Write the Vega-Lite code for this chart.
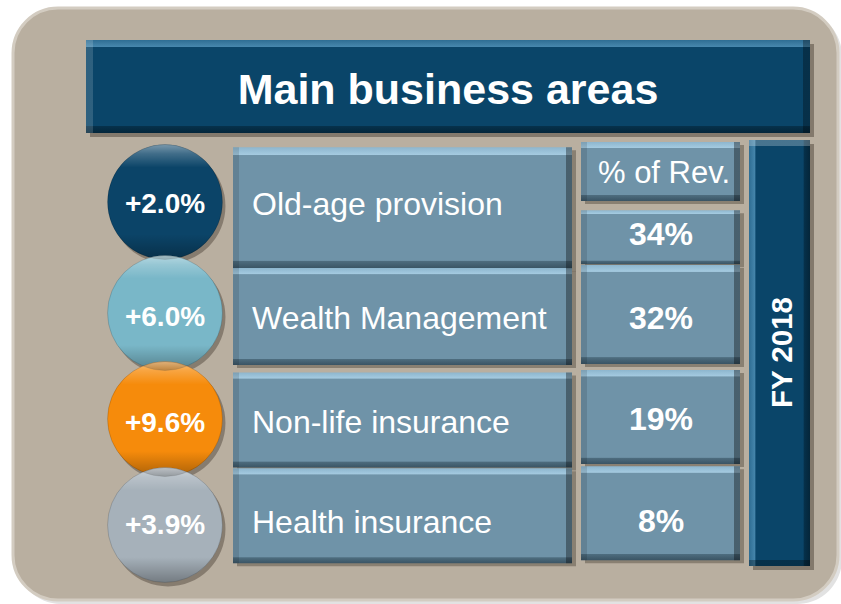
{
  "$schema": "https://vega.github.io/schema/vega-lite/v6.json",
  "width": 841,
  "height": 604,
  "padding": 0,
  "autosize": {"type": "none"},
  "background": "#ffffff",
  "config": {"view": {"stroke": null}, "axis": {"disable": true}},
  "data": {
    "values": [
      {"area": "Old-age provision", "growth": 0.020, "share": 0.34, "rank": 1},
      {"area": "Wealth Management", "growth": 0.060, "share": 0.32, "rank": 2},
      {"area": "Non-life insurance", "growth": 0.096, "share": 0.19, "rank": 3},
      {"area": "Health insurance", "growth": 0.039, "share": 0.08, "rank": 4}
    ]
  },
  "resolve": {"scale": {"y": "independent"}},
  "layer": [
    {
      "data": {"values": [{}]},
      "mark": {"type": "rect", "cornerRadius": 45, "fill": "#e2e2e2"},
      "encoding": {
        "x": {"datum": 16, "scale": {"domain": [0, 841], "nice": false, "zero": false}},
        "x2": {"datum": 842},
        "y": {"datum": 11, "scale": {"domain": [0, 604], "range": [0, 604], "nice": false, "zero": false}},
        "y2": {"datum": 604}
      }
    },
    {
      "data": {"values": [{}]},
      "mark": {"type": "rect", "cornerRadius": 45, "fill": "#b9afa0", "stroke": "#d3ccc1", "strokeWidth": 3},
      "encoding": {
        "x": {"datum": 13, "scale": {"domain": [0, 841], "nice": false, "zero": false}},
        "x2": {"datum": 838},
        "y": {"datum": 8, "scale": {"domain": [0, 604], "range": [0, 604], "nice": false, "zero": false}},
        "y2": {"datum": 600}
      }
    },
    {
      "data": {"values": [{}]},
      "mark": {"type": "rect", "fill": "rgba(50,40,30,0.4)"},
      "encoding": {
        "x": {"datum": 90, "scale": {"domain": [0, 841], "nice": false, "zero": false}},
        "x2": {"datum": 814},
        "y": {"datum": 44, "scale": {"domain": [0, 604], "range": [0, 604], "nice": false, "zero": false}},
        "y2": {"datum": 137}
      }
    },
    {
      "data": {"values": [{}]},
      "mark": {"type": "rect", "fill": {"gradient": "linear", "x1": 0, "y1": 0, "x2": 0, "y2": 1, "stops": [
        {"offset": 0, "color": "#2e6d93"}, {"offset": 0.07, "color": "#4686ac"}, {"offset": 0.08, "color": "#0a4569"},
        {"offset": 0.92, "color": "#0a4569"}, {"offset": 0.93, "color": "#06314b"}, {"offset": 1, "color": "#04263a"}]}},
      "encoding": {
        "x": {"datum": 86, "scale": {"domain": [0, 841], "nice": false, "zero": false}},
        "x2": {"datum": 810},
        "y": {"datum": 40, "scale": {"domain": [0, 604], "range": [0, 604], "nice": false, "zero": false}},
        "y2": {"datum": 133}
      }
    },
    {
      "data": {"values": [{}]},
      "mark": {"type": "rect", "fill": {"gradient": "linear", "x1": 0, "y1": 0, "x2": 1, "y2": 0, "stops": [
        {"offset": 0, "color": "rgba(255,255,255,0.15)"}, {"offset": 0.0095, "color": "rgba(255,255,255,0.15)"}, {"offset": 0.01, "color": "rgba(255,255,255,0)"},
        {"offset": 0.99, "color": "rgba(0,0,0,0)"}, {"offset": 0.9905, "color": "rgba(0,0,0,0.3)"}, {"offset": 1, "color": "rgba(0,0,0,0.3)"}]}},
      "encoding": {
        "x": {"datum": 86, "scale": {"domain": [0, 841], "nice": false, "zero": false}},
        "x2": {"datum": 810},
        "y": {"datum": 40, "scale": {"domain": [0, 604], "range": [0, 604], "nice": false, "zero": false}},
        "y2": {"datum": 133}
      }
    },
    {
      "data": {"values": [{}]},
      "mark": {"type": "text", "align": "center", "baseline": "alphabetic", "font": "Liberation Sans", "fontWeight": "bold", "fontSize": 43, "fill": "#ffffff"},
      "encoding": {
        "x": {"datum": 448, "scale": {"domain": [0, 841], "nice": false, "zero": false}},
        "y": {"datum": 104, "scale": {"domain": [0, 604], "range": [0, 604], "nice": false, "zero": false}},
        "text": {"value": "Main business areas"}
      }
    },
    {
      "mark": {"type": "bar", "fill": "rgba(50,40,30,0.35)"},
      "encoding": {
        "x": {"datum": 237, "scale": {"domain": [0, 841], "nice": false, "zero": false}},
        "x2": {"datum": 576},
        "y": {"field": "rank", "type": "quantitative", "scale": {"domain": [1, 2, 3, 4], "range": [205.5, 319.5, 423, 523.5], "nice": false, "zero": false}},
        "size": {"condition": [{"test": "datum.rank === 1", "value": 121}, {"test": "datum.rank === 2", "value": 97}], "value": 95}
      }
    },
    {
      "mark": {"type": "bar", "fill": {"gradient": "linear", "x1": 0, "y1": 0, "x2": 0, "y2": 1, "stops": [
        {"offset": 0, "color": "#8db6ce"}, {"offset": 0.06, "color": "#a4cae0"}, {"offset": 0.068, "color": "#6f93a8"},
        {"offset": 0.935, "color": "#6f93a8"}, {"offset": 0.94, "color": "#4e6d7f"}, {"offset": 1, "color": "#3a5464"}]}},
      "encoding": {
        "x": {"datum": 233, "scale": {"domain": [0, 841], "nice": false, "zero": false}},
        "x2": {"datum": 572},
        "y": {"field": "rank", "type": "quantitative", "scale": {"domain": [1, 2, 3, 4], "range": [202.5, 316.5, 420, 520.5], "nice": false, "zero": false}},
        "size": {"condition": [{"test": "datum.rank === 1", "value": 121}, {"test": "datum.rank === 2", "value": 97}], "value": 95}
      }
    },
    {
      "mark": {"type": "bar", "fill": {"gradient": "linear", "x1": 0, "y1": 0, "x2": 1, "y2": 0, "stops": [
        {"offset": 0, "color": "rgba(0,0,0,0.12)"}, {"offset": 0.017, "color": "rgba(0,0,0,0.12)"}, {"offset": 0.018, "color": "rgba(0,0,0,0)"},
        {"offset": 0.982, "color": "rgba(0,0,0,0)"}, {"offset": 0.983, "color": "rgba(0,0,0,0.35)"}, {"offset": 1, "color": "rgba(0,0,0,0.35)"}]}},
      "encoding": {
        "x": {"datum": 233, "scale": {"domain": [0, 841], "nice": false, "zero": false}},
        "x2": {"datum": 572},
        "y": {"field": "rank", "type": "quantitative", "scale": {"domain": [1, 2, 3, 4], "range": [202.5, 316.5, 420, 520.5], "nice": false, "zero": false}},
        "size": {"condition": [{"test": "datum.rank === 1", "value": 121}, {"test": "datum.rank === 2", "value": 97}], "value": 95}
      }
    },
    {
      "data": {"values": [{}]},
      "mark": {"type": "rect", "fill": "rgba(50,40,30,0.35)"},
      "encoding": {
        "x": {"datum": 585, "scale": {"domain": [0, 841], "nice": false, "zero": false}},
        "x2": {"datum": 744},
        "y": {"datum": 145, "scale": {"domain": [0, 604], "range": [0, 604], "nice": false, "zero": false}},
        "y2": {"datum": 204}
      }
    },
    {
      "data": {"values": [{}]},
      "mark": {"type": "rect", "fill": {"gradient": "linear", "x1": 0, "y1": 0, "x2": 0, "y2": 1, "stops": [
        {"offset": 0, "color": "#8db6ce"}, {"offset": 0.1, "color": "#a4cae0"}, {"offset": 0.11, "color": "#6f93a8"},
        {"offset": 0.89, "color": "#6f93a8"}, {"offset": 0.9, "color": "#4e6d7f"}, {"offset": 1, "color": "#3a5464"}]}},
      "encoding": {
        "x": {"datum": 581, "scale": {"domain": [0, 841], "nice": false, "zero": false}},
        "x2": {"datum": 740},
        "y": {"datum": 142, "scale": {"domain": [0, 604], "range": [0, 604], "nice": false, "zero": false}},
        "y2": {"datum": 201}
      }
    },
    {
      "data": {"values": [{}]},
      "mark": {"type": "rect", "fill": {"gradient": "linear", "x1": 0, "y1": 0, "x2": 1, "y2": 0, "stops": [
        {"offset": 0, "color": "rgba(0,0,0,0.12)"}, {"offset": 0.037, "color": "rgba(0,0,0,0.12)"}, {"offset": 0.038, "color": "rgba(0,0,0,0)"},
        {"offset": 0.962, "color": "rgba(0,0,0,0)"}, {"offset": 0.963, "color": "rgba(0,0,0,0.35)"}, {"offset": 1, "color": "rgba(0,0,0,0.35)"}]}},
      "encoding": {
        "x": {"datum": 581, "scale": {"domain": [0, 841], "nice": false, "zero": false}},
        "x2": {"datum": 740},
        "y": {"datum": 142, "scale": {"domain": [0, 604], "range": [0, 604], "nice": false, "zero": false}},
        "y2": {"datum": 201}
      }
    },
    {
      "mark": {"type": "bar", "fill": "rgba(50,40,30,0.35)"},
      "encoding": {
        "x": {"datum": 585, "scale": {"domain": [0, 841], "nice": false, "zero": false}},
        "x2": {"datum": 744},
        "y": {"field": "rank", "type": "quantitative", "scale": {"domain": [1, 2, 3, 4], "range": [236, 317.5, 420, 521.5], "nice": false, "zero": false}},
        "size": {"condition": [{"test": "datum.rank === 1", "value": 54}, {"test": "datum.rank === 2", "value": 99}], "value": 94}
      }
    },
    {
      "mark": {"type": "bar", "fill": {"gradient": "linear", "x1": 0, "y1": 0, "x2": 0, "y2": 1, "stops": [
        {"offset": 0, "color": "#8db6ce"}, {"offset": 0.065, "color": "#a4cae0"}, {"offset": 0.072, "color": "#6f93a8"},
        {"offset": 0.93, "color": "#6f93a8"}, {"offset": 0.935, "color": "#4e6d7f"}, {"offset": 1, "color": "#3a5464"}]}},
      "encoding": {
        "x": {"datum": 581, "scale": {"domain": [0, 841], "nice": false, "zero": false}},
        "x2": {"datum": 740},
        "y": {"field": "rank", "type": "quantitative", "scale": {"domain": [1, 2, 3, 4], "range": [233, 314.5, 417, 518.5], "nice": false, "zero": false}},
        "size": {"condition": [{"test": "datum.rank === 1", "value": 54}, {"test": "datum.rank === 2", "value": 99}], "value": 94}
      }
    },
    {
      "mark": {"type": "bar", "fill": {"gradient": "linear", "x1": 0, "y1": 0, "x2": 1, "y2": 0, "stops": [
        {"offset": 0, "color": "rgba(0,0,0,0.12)"}, {"offset": 0.037, "color": "rgba(0,0,0,0.12)"}, {"offset": 0.038, "color": "rgba(0,0,0,0)"},
        {"offset": 0.962, "color": "rgba(0,0,0,0)"}, {"offset": 0.963, "color": "rgba(0,0,0,0.35)"}, {"offset": 1, "color": "rgba(0,0,0,0.35)"}]}},
      "encoding": {
        "x": {"datum": 581, "scale": {"domain": [0, 841], "nice": false, "zero": false}},
        "x2": {"datum": 740},
        "y": {"field": "rank", "type": "quantitative", "scale": {"domain": [1, 2, 3, 4], "range": [233, 314.5, 417, 518.5], "nice": false, "zero": false}},
        "size": {"condition": [{"test": "datum.rank === 1", "value": 54}, {"test": "datum.rank === 2", "value": 99}], "value": 94}
      }
    },
    {
      "data": {"values": [{}]},
      "mark": {"type": "rect", "fill": "rgba(50,40,30,0.4)"},
      "encoding": {
        "x": {"datum": 753, "scale": {"domain": [0, 841], "nice": false, "zero": false}},
        "x2": {"datum": 814},
        "y": {"datum": 144, "scale": {"domain": [0, 604], "range": [0, 604], "nice": false, "zero": false}},
        "y2": {"datum": 570}
      }
    },
    {
      "data": {"values": [{}]},
      "mark": {"type": "rect", "fill": {"gradient": "linear", "x1": 0, "y1": 0, "x2": 1, "y2": 0, "stops": [
        {"offset": 0, "color": "#2e6d93"}, {"offset": 0.1, "color": "#4686ac"}, {"offset": 0.11, "color": "#0a4569"},
        {"offset": 0.89, "color": "#0a4569"}, {"offset": 0.9, "color": "#06314b"}, {"offset": 1, "color": "#04263a"}]}},
      "encoding": {
        "x": {"datum": 749, "scale": {"domain": [0, 841], "nice": false, "zero": false}},
        "x2": {"datum": 810},
        "y": {"datum": 140, "scale": {"domain": [0, 604], "range": [0, 604], "nice": false, "zero": false}},
        "y2": {"datum": 566}
      }
    },
    {
      "data": {"values": [{}]},
      "mark": {"type": "rect", "fill": {"gradient": "linear", "x1": 0, "y1": 0, "x2": 0, "y2": 1, "stops": [
        {"offset": 0, "color": "rgba(255,255,255,0.25)"}, {"offset": 0.014, "color": "rgba(255,255,255,0.25)"}, {"offset": 0.015, "color": "rgba(255,255,255,0)"},
        {"offset": 0.985, "color": "rgba(0,0,0,0)"}, {"offset": 0.986, "color": "rgba(0,0,0,0.3)"}, {"offset": 1, "color": "rgba(0,0,0,0.3)"}]}},
      "encoding": {
        "x": {"datum": 749, "scale": {"domain": [0, 841], "nice": false, "zero": false}},
        "x2": {"datum": 810},
        "y": {"datum": 140, "scale": {"domain": [0, 604], "range": [0, 604], "nice": false, "zero": false}},
        "y2": {"datum": 566}
      }
    },
    {
      "data": {"values": [{}]},
      "mark": {"type": "text", "align": "center", "baseline": "alphabetic", "angle": 270, "font": "Liberation Sans", "fontWeight": "bold", "fontSize": 29.5, "fill": "#ffffff"},
      "encoding": {
        "x": {"datum": 792, "scale": {"domain": [0, 841], "nice": false, "zero": false}},
        "y": {"datum": 352.5, "scale": {"domain": [0, 604], "range": [0, 604], "nice": false, "zero": false}},
        "text": {"value": "FY 2018"}
      }
    },
    {
      "mark": {"type": "point", "shape": "circle", "filled": true, "size": 13200, "fill": "rgba(40,30,20,0.35)", "xOffset": 3, "yOffset": 4, "opacity": 1},
      "encoding": {
        "x": {"datum": 165, "scale": {"domain": [0, 841], "nice": false, "zero": false}},
        "y": {"field": "rank", "type": "quantitative", "scale": {"domain": [1, 2, 3, 4], "range": [202, 313, 419, 525], "nice": false, "zero": false}}
      }
    },
    {
      "mark": {"type": "point", "shape": "circle", "filled": true, "size": 13200, "opacity": 1},
      "encoding": {
        "x": {"datum": 165, "scale": {"domain": [0, 841], "nice": false, "zero": false}},
        "y": {"field": "rank", "type": "quantitative", "scale": {"domain": [1, 2, 3, 4], "range": [202, 313, 419, 525], "nice": false, "zero": false}},
        "color": {"field": "area", "type": "nominal", "legend": null, "scale": {
          "domain": ["Old-age provision", "Wealth Management", "Non-life insurance", "Health insurance"],
          "range": ["#0b4468", "#79b7c8", "#f68b0b", "#a6b1ba"]}}
      }
    },
    {
      "mark": {"type": "point", "shape": "circle", "filled": true, "size": 13200, "opacity": 1, "stroke": "rgba(0,0,0,0.15)", "strokeWidth": 1,
        "fill": {"gradient": "linear", "x1": 0, "y1": 0, "x2": 0, "y2": 1, "stops": [
          {"offset": 0, "color": "rgba(255,255,255,0.45)"}, {"offset": 0.08, "color": "rgba(255,255,255,0.22)"}, {"offset": 0.2, "color": "rgba(255,255,255,0)"},
          {"offset": 0.78, "color": "rgba(0,0,0,0)"}, {"offset": 1, "color": "rgba(0,0,0,0.3)"}]}},
      "encoding": {
        "x": {"datum": 165, "scale": {"domain": [0, 841], "nice": false, "zero": false}},
        "y": {"field": "rank", "type": "quantitative", "scale": {"domain": [1, 2, 3, 4], "range": [202, 313, 419, 525], "nice": false, "zero": false}}
      }
    },
    {
      "mark": {"type": "text", "align": "center", "baseline": "alphabetic", "font": "Liberation Sans", "fontWeight": "bold", "fontSize": 28, "fill": "#ffffff"},
      "encoding": {
        "x": {"datum": 165, "scale": {"domain": [0, 841], "nice": false, "zero": false}},
        "y": {"field": "rank", "type": "quantitative", "scale": {"domain": [1, 2, 3, 4], "range": [213, 326, 432, 534], "nice": false, "zero": false}},
        "text": {"field": "growth", "type": "quantitative", "format": "+.1%"}
      }
    },
    {
      "mark": {"type": "text", "align": "left", "baseline": "alphabetic", "font": "Liberation Sans", "fontSize": 32, "fill": "#ffffff"},
      "encoding": {
        "x": {"datum": 252, "scale": {"domain": [0, 841], "nice": false, "zero": false}},
        "y": {"field": "rank", "type": "quantitative", "scale": {"domain": [1, 2, 3, 4], "range": [215, 329, 433, 533], "nice": false, "zero": false}},
        "text": {"field": "area", "type": "nominal"}
      }
    },
    {
      "data": {"values": [{}]},
      "mark": {"type": "text", "align": "center", "baseline": "alphabetic", "font": "Liberation Sans", "fontSize": 31, "fill": "#ffffff"},
      "encoding": {
        "x": {"datum": 664, "scale": {"domain": [0, 841], "nice": false, "zero": false}},
        "y": {"datum": 183, "scale": {"domain": [0, 604], "range": [0, 604], "nice": false, "zero": false}},
        "text": {"value": "% of Rev."}
      }
    },
    {
      "mark": {"type": "text", "align": "center", "baseline": "alphabetic", "font": "Liberation Sans", "fontWeight": "bold", "fontSize": 32, "fill": "#ffffff"},
      "encoding": {
        "x": {"datum": 661, "scale": {"domain": [0, 841], "nice": false, "zero": false}},
        "y": {"field": "rank", "type": "quantitative", "scale": {"domain": [1, 2, 3, 4], "range": [245, 329, 430, 532], "nice": false, "zero": false}},
        "text": {"field": "share", "type": "quantitative", "format": ".0%"}
      }
    }
  ]
}
